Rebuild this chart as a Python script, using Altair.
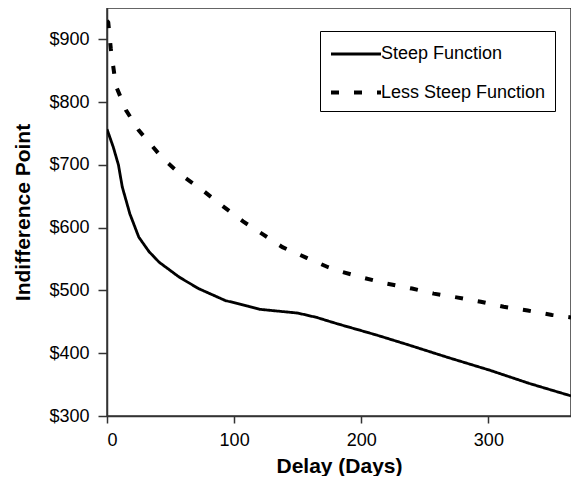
import altair as alt
import pandas as pd

steep_days = [0, 5, 9, 12, 18, 25, 33, 41, 57, 72, 93, 111, 120, 135, 150, 165, 181, 200, 212, 236, 267, 301, 332, 365]
steep_vals = [757, 728, 700, 665, 622, 585, 562, 545, 521, 503, 484, 475, 470, 467, 464, 457, 447, 436, 429, 414, 394, 373, 352, 332]

less_days = [0, 1, 3, 7, 15, 25, 44, 59, 75, 90, 107, 123, 138, 157, 174, 184, 202, 220, 240, 257, 275, 294, 312, 331, 350, 365]
less_vals = [930, 927, 885, 826, 787, 755, 710, 683, 660, 636, 610, 589, 569, 552, 537, 530, 520, 511, 503, 495, 489, 482, 474, 468, 461, 457]

series_names = ["Steep Function", "Less Steep Function"]
x_ticks = [0, 100, 200, 300]
y_ticks = [300, 400, 500, 600, 700, 800, 900]

df = pd.concat([
    pd.DataFrame({"day": steep_days, "value": steep_vals, "series": series_names[0]}),
    pd.DataFrame({"day": less_days, "value": less_vals, "series": series_names[1]}),
])

FONT = "Liberation Sans"

legend = alt.Legend(
    title=None, orient="none", legendX=213, legendY=23,
    symbolType="M-1,0H3", symbolSize=625, symbolStrokeColor="black",
    labelFont=FONT, labelFontSize=18, labelColor="black", labelOffset=23, labelLimit=0,
    fillColor="white", strokeColor="black", padding=9, rowPadding=15,
)

chart = alt.Chart(df).mark_line(color="black", clip=True).encode(
    x=alt.X("day:Q", scale=alt.Scale(domain=[0, 365], nice=False),
            axis=alt.Axis(values=x_ticks, title="Delay (Days)", tickSize=7,
                          labelPadding=8, titlePadding=6)),
    y=alt.Y("value:Q", scale=alt.Scale(domain=[300, 950], nice=False, zero=False),
            axis=alt.Axis(values=y_ticks, format="$d", title="Indifference Point",
                          tickSize=9, labelPadding=9, titlePadding=15)),
    strokeDash=alt.StrokeDash("series:N", scale=alt.Scale(domain=series_names, range=[[1, 0], [8, 15]]),
                              legend=legend),
    strokeWidth=alt.StrokeWidth("series:N", scale=alt.Scale(domain=series_names, range=[2.8, 4]),
                                legend=legend),
    detail="series:N",
).properties(
    width=464, height=408,
    autosize=alt.AutoSizeParams(type="none"),
    padding={"left": 99, "top": 0, "right": 0, "bottom": 60},
).configure_view(
    stroke="#333", strokeWidth=1.5
).configure_axis(
    grid=False, domainColor="#333", domainWidth=1.5, tickColor="#333", tickWidth=1.5,
    labelFont=FONT, labelFontSize=18, labelColor="black",
    titleFont=FONT, titleFontSize=21, titleFontWeight="bold", titleColor="black",
)

chart.save("out.html", embed_options={"renderer": "svg", "actions": False})
